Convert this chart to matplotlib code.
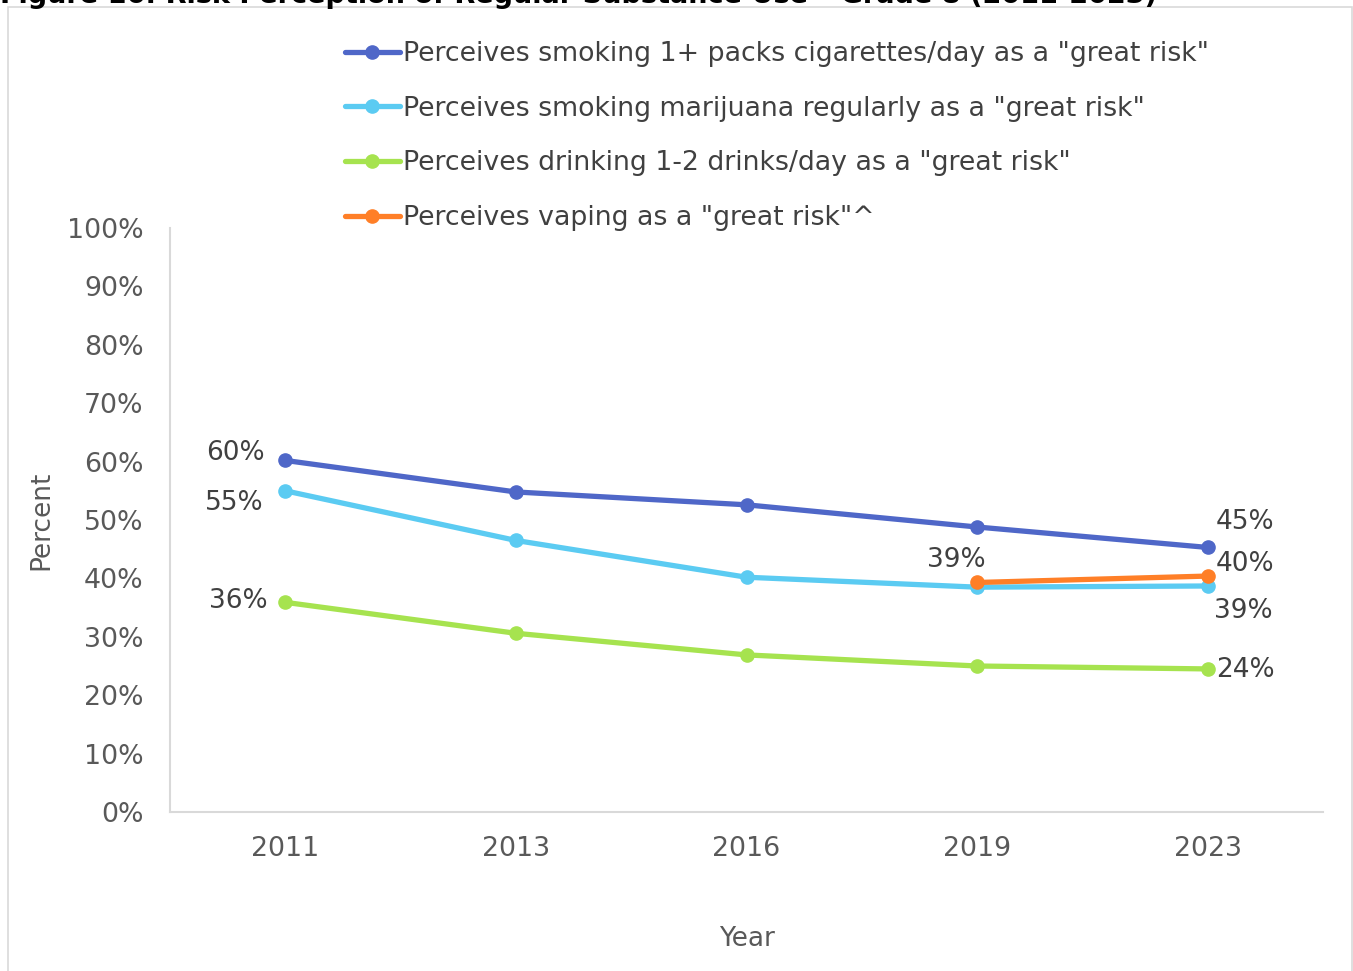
import matplotlib.pyplot as plt
from matplotlib.patches import Rectangle

years = ["2011", "2013", "2016", "2019", "2023"]
cigarettes = [60.2, 54.8, 52.6, 48.8, 45.3]
marijuana = [55.0, 46.5, 40.2, 38.5, 38.7]
alcohol = [35.9, 30.6, 26.9, 25.0, 24.5]
vaping_years = ["2019", "2023"]
vaping = [39.3, 40.4]

labels = [
    'Perceives smoking 1+ packs cigarettes/day as a "great risk"',
    'Perceives smoking marijuana regularly as a "great risk"',
    'Perceives drinking 1-2 drinks/day as a "great risk"',
    'Perceives vaping as a "great risk"^',
]
colors = ["#4F67C8", "#5BCBF2", "#A6E34F", "#FF7F27"]
text_col = "#404040"
axis_col = "#595959"

fig = plt.figure(figsize=(13.53, 9.71), dpi=100)
W, H = 1353, 971

# outer chart border
fig.patches.append(Rectangle((8 / W, -0.01), 1344 / W, 1 - 7 / H + 0.01,
                             transform=fig.transFigure, fill=False,
                             edgecolor="#D9D9D9", linewidth=1.2))

fig.text(0.0, 1 - 3 / H, "Figure 16: Risk Perception of Regular Substance Use \u2013 Grade 8 (2011-2023)",
         fontsize=19.5, fontweight="bold", color="black", va="baseline", ha="left")

ax = fig.add_axes([170 / W, 1 - 812 / H, (1323 - 170) / W, (812 - 228) / H])
x = list(range(len(years)))
xv = [years.index(y) for y in vaping_years]

series = [(x, cigarettes), (x, marijuana), (x, alcohol), (xv, vaping)]
handles = []
for (xs, ys), c, lab in zip(series, colors, labels):
    h, = ax.plot(xs, ys, color=c, linewidth=3.8, marker="o", markersize=9.5,
                 solid_capstyle="round", label=lab)
    handles.append(h)

ax.set_xlim(-0.5, 4.5)
ax.set_ylim(0, 100)
ax.set_xticks(x)
ax.set_xticklabels(years)
ax.set_yticks(range(0, 101, 10))
ax.set_yticklabels([f"{v}%" for v in range(0, 101, 10)])
ax.tick_params(length=0, labelsize=19.3, colors=axis_col)
ax.tick_params(axis="y", pad=19)
ax.tick_params(axis="x", pad=17)
for s in ["top", "right"]:
    ax.spines[s].set_visible(False)
ax.spines["left"].set_color("#D9D9D9")
ax.spines["bottom"].set_color("#D9D9D9")
ax.spines["left"].set_linewidth(1.5)
ax.spines["bottom"].set_linewidth(1.5)

ax.set_xlabel("Year", fontsize=19, color=axis_col, labelpad=46)
ax.set_ylabel("Percent", fontsize=19, color=axis_col, labelpad=9)

def lab(xi, yi, s, dx, dy, ha="center"):
    ax.annotate(s, (xi, yi), xytext=(dx, dy), textcoords="offset points",
                ha=ha, va="center", fontsize=19, color=text_col)

lab(0, cigarettes[0], f"{cigarettes[0]:.0f}%", -36, 5)
lab(0, marijuana[0], f"{marijuana[0]:.0f}%", -37, -9)
lab(0, alcohol[0], f"{alcohol[0]:.0f}%", -34, 1)
lab(xv[0], vaping[0], f"{vaping[0]:.0f}%", -15, 16)
lab(4, cigarettes[4], f"{cigarettes[4]:.0f}%", 27, 18)
lab(4, vaping[1], f"{vaping[1]:.0f}%", 27, 9)
lab(4, marijuana[4], f"{marijuana[4]:.0f}%", 26, -18)
lab(4, alcohol[4], f"{alcohol[4]:.0f}%", 27, -1)

fig.legend(handles=handles, loc="upper left", bbox_to_anchor=(345 / W, 1 - 41 / H),
           frameon=False, fontsize=19.3, labelcolor=text_col, handlelength=2.05,
           handletextpad=0.12, labelspacing=1.07, borderaxespad=0, borderpad=0)

fig.savefig("out.png", dpi=100)
